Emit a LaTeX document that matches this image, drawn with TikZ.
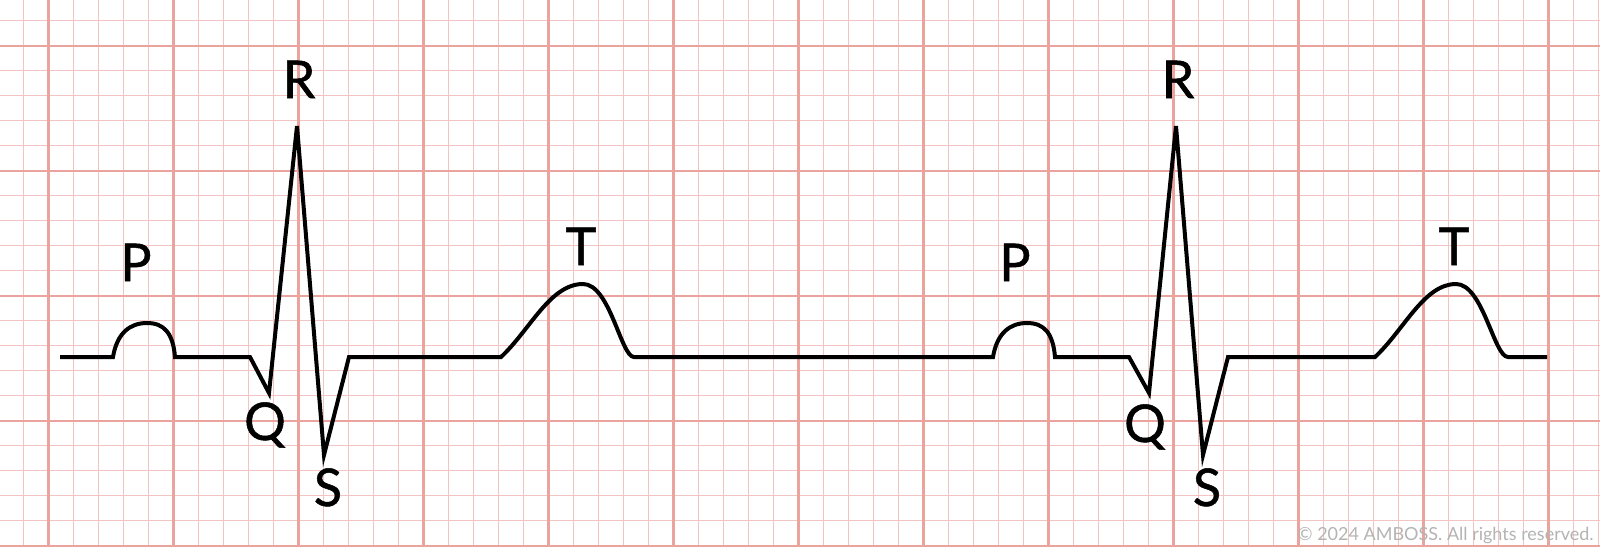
\documentclass[tikz,border=0pt]{standalone}
\usepackage{fontspec}
\setmainfont{Lato}
\newfontfamily\labelfont[FakeBold=1]{Lato}
\usepackage{tikz}
\usetikzlibrary{calc}

\definecolor{gridmajor}{HTML}{EBA39D}
\definecolor{gridminor}{HTML}{F3C4C4}
\definecolor{notegray}{HTML}{B4B4B4}

\begin{document}
\begin{tikzpicture}[x=0.5pt,y=-0.5pt,
    minorline/.style={gridminor, line width=0.7pt},
    majorline/.style={gridmajor, line width=1.2pt},
    trace/.style={black, line width=2pt},
    wavelabel/.style={anchor=base, inner sep=0pt, font=\labelfont\fontsize{26}{31}\selectfont}]
      \fill[white] (0,0) rectangle (1600,547);
      \useasboundingbox (0,0) rectangle (1600,547);
      \clip (0,0) rectangle (1600,547);
      % paper grid
      \foreach \i in {0,...,63} {
        \draw[minorline] ({23.5+25*\i},0) -- ({23.5+25*\i},547);
      }
      \foreach \j in {0,...,21} {
        \draw[minorline] (0,{20.7+25*\j}) -- (1600,{20.7+25*\j});
      }
      \foreach \i in {0,...,12} {
        \draw[majorline] ({48.5+125*\i},0) -- ({48.5+125*\i},547);
      }
      \foreach \j in {0,...,4} {
        \draw[majorline] (0,{45.7+125*\j}) -- (1600,{45.7+125*\j});
      }
      % two beats
      \draw[trace] (60,357) -- (113,357)
        .. controls (117,333) and (130,323) .. (147,323)
        .. controls (164,323) and (173,333) .. (175,357)
        -- (250,357) -- (269,393) -- (297,126) -- (324,455) -- (349,357) -- (501,357)
        .. controls (530,330) and (550,284) .. (583,284)
        .. controls (610,284) and (621,357) .. (634,357)
        -- (993,357)
        .. controls (997,333) and (1010,323) .. (1027,323)
        .. controls (1044,323) and (1053,333) .. (1055,357)
        -- (1129,357) -- (1149,393) -- (1176,126) -- (1203,455) -- (1228,357) -- (1375,357)
        .. controls (1404,330) and (1424,284) .. (1456,284)
        .. controls (1483,284) and (1494,357) .. (1508,357)
        -- (1547,357);
      \node[wavelabel] (p1) at (136,281) {P};
      \node[wavelabel] (q1) at (265,440) {Q};
      \node[wavelabel] (r1) at (299,98) {R};
      \node[wavelabel] (s1) at (328,506) {S};
      \node[wavelabel] (t1) at (581,265) {T};
      \node[wavelabel] (p2) at (1015,281) {P};
      \node[wavelabel] (q2) at (1145,442) {Q};
      \node[wavelabel] (r2) at (1178,98) {R};
      \node[wavelabel] (s2) at (1207,506) {S};
      \node[wavelabel] (t2) at (1454,265) {T};
      \node[anchor=base east, inner sep=0pt, notegray, font=\fontsize{9}{11}\selectfont] (note) at (1594,540) {© 2024 AMBOSS. All rights reserved.};
    \end{tikzpicture}
\end{document}
